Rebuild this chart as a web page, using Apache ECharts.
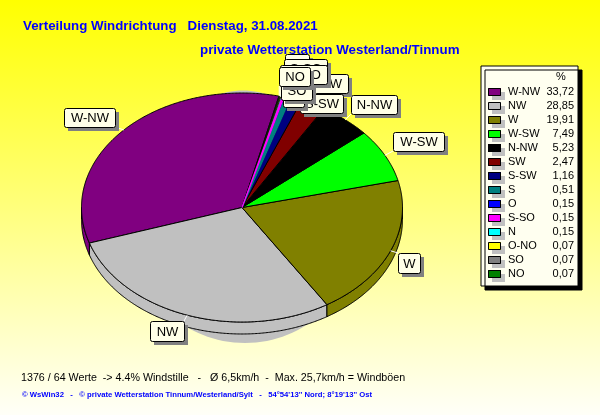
<!DOCTYPE html>
<html><head><meta charset="utf-8">
<style>html,body{margin:0;padding:0;background:#fff}#c{width:600px;height:415px}</style>
<script src="https://cdn.jsdelivr.net/npm/echarts@6/dist/echarts.min.js"></script>
</head><body><div id="c"></div>
<script>
const directions = ['W-NW','NW','W','W-SW','N-NW','SW','S-SW','S','O','S-SO','N','O-NO','SO','NO'];
const percents = [33.72,28.85,19.91,7.49,5.23,2.47,1.16,0.51,0.15,0.15,0.15,0.07,0.07,0.07];
const titleText = 'Verteilung Windrichtung   Dienstag, 31.08.2021';
const subtitleText = 'private Wetterstation Westerland/Tinnum';
const statsText = '1376 / 64 Werte  -> 4.4% Windstille   -   Ø 6,5km/h  -  Max. 25,7km/h = Windböen';
const footerText = '© WsWin32   -   © private Wetterstation Tinnum/Westerland/Sylt   -   54°54\'13\'\' Nord; 8°19\'13\'\' Ost';

const colors = ['#800080','#c0c0c0','#808000','#00ff00','#000000','#800000','#000080','#008080','#0000ff','#ff00ff','#00ffff','#ffff00','#808080','#008000'];
const labelBoxes = {
  'W-NW':[64,108,51,19],'NW':[150,321,34,20],'W':[398,253,22,20],'W-SW':[393,132,51,19],'N-NW':[351,95,46,19],
  'SW':[314,74,34,19],'S-SW':[300,94,43,19],'S':[283,88,21,19],'O':[285,54,24,19],'S-SO':[284,59,43,19],
  'N':[303,65,24,19],'O-NO':[280,65,47,19],'SO':[281,81,31,19],'NO':[279,67,31,19]
};
const brightSlivers = ['S','S-SO'];
const PIE = {cx:242, cy:207.5, rx:160.5, ry:114.5, depth:12, startDeg:-76.7};
const KEY = {x:488, y:88, w:13, h:8, pitch:14};
const FONT = '"Liberation Sans", Arial, sans-serif';
const paper = '#fffff0';

const pt = (deg, dy) => {
  const a = deg*Math.PI/180;
  return [PIE.cx+PIE.rx*Math.cos(a), PIE.cy+PIE.ry*Math.sin(a)+(dy||0)];
};
const arc = (hi, lo, dy) => {
  const out = [], n = Math.max(1, Math.ceil((hi-lo)/0.5));
  for (let i=0;i<=n;i++) out.push(pt(hi-(hi-lo)*i/n, dy));
  return out;
};
const total = percents.reduce((a,b)=>a+b,0);

function renderSlice(params, api) {
  const i = params.seriesIndex;
  const before = api.value(1), val = api.value(0);
  const hi = PIE.startDeg - before/total*360;
  const lo = hi - val/total*360;
  const line = {stroke:'#000', lineWidth:1};
  const fill = colors[i];
  const kids = [];
  // side wall: the part of the rim that faces the viewer
  [-360,0].forEach(k => {
    const a = Math.min(hi, 180+k), b = Math.max(lo, k);
    if (a > b) {
      const pts = arc(a,b,0).concat(arc(a,b,PIE.depth).reverse());
      kids.push({type:'polygon', shape:{points:pts}, style:Object.assign({fill}, line), z2:1});
    }
  });
  // top face
  const thin = val < 1;
  const bright = brightSlivers.includes(directions[i]);
  kids.push({type:'polygon', shape:{points:[[PIE.cx,PIE.cy]].concat(arc(hi,lo,0))},
    style:{fill, stroke: bright ? fill : '#000', lineWidth: thin ? (bright ? 1.2 : .6) : 1},
    z2: bright ? 40 : 2+(thin?i:0)});
  // label
  const box = labelBoxes[directions[i]];
  const mid = pt((hi+lo)/2);
  const tx = Math.max(box[0], Math.min(box[0]+box[2], mid[0]));
  const ty = Math.max(box[1], Math.min(box[1]+box[3], mid[1]));
  const zb = 100+i*3;
  kids.push({type:'line', shape:{x1:mid[0],y1:mid[1],x2:tx,y2:ty}, style:{stroke:'#fff',lineWidth:1}, z2:50});
  kids.push({type:'rect', shape:{x:box[0]+4,y:box[1]+4,width:box[2],height:box[3]}, style:{fill:'#808080'}, z2:zb});
  kids.push({type:'rect', shape:{x:box[0]+.5,y:box[1]+.5,width:box[2],height:box[3],r:2}, style:{fill:'#ffffe8',stroke:'#000',lineWidth:1}, z2:zb+1});
  kids.push({type:'text', style:{x:box[0]+box[2]/2+.5,y:box[1]+box[3]/2+1,text:directions[i],align:'center',verticalAlign:'middle',fill:'#000',font:'13px '+FONT}, z2:zb+2});
  return {type:'group', children:kids};
}

let run = 0;
const series = directions.map((d,i) => {
  const s = {name:d, type:'custom', coordinateSystem:'none', renderItem:renderSlice, silent:true,
    itemStyle:{color:colors[i]}, data:[[percents[i], run]], animation:false};
  run += percents[i];
  return s;
});

const keyOutlines = directions.map((d,i) => ({
  type:'rect', z:10, silent:true,
  shape:{x:KEY.x+.5, y:KEY.y+KEY.pitch*i+.5, width:KEY.w-1, height:KEY.h-1},
  style:{fill:'none', stroke:'#000', lineWidth:1}
}));

const chart = echarts.init(document.getElementById('c'), null, {renderer:'canvas', width:600, height:415});
chart.setOption({
  animation:false,
  backgroundColor:{type:'linear',x:0,y:0,x2:0,y2:1,colorStops:[{offset:0,color:'#ffff00'},{offset:1,color:'#fffff8'}]},
  title:[
    {text:titleText,left:23,top:20,padding:0,textStyle:{fontFamily:FONT,fontSize:13.3,fontWeight:'bold',color:'#0000ff'}},
    {text:subtitleText,left:200,top:44,padding:0,textStyle:{fontFamily:FONT,fontSize:13.35,fontWeight:'bold',color:'#0000ff'}},
    {text:statsText,left:21,top:373,padding:0,textStyle:{fontFamily:FONT,fontSize:10.7,fontWeight:'normal',color:'#000'}},
    {text:footerText,left:22,top:391,padding:0,textStyle:{fontFamily:FONT,fontSize:7.7,fontWeight:'bold',color:'#0000ff'}},
    {text:'%',left:556,top:71,padding:0,textStyle:{fontFamily:FONT,fontSize:11,fontWeight:'normal',color:'#000'}}
  ],
  legend:{
    orient:'vertical', left:481, top:66, padding:[19,4,5,7], itemGap:0, itemWidth:KEY.w, itemHeight:KEY.h, icon:'rect',
    selectedMode:false, backgroundColor:paper, borderColor:'#000', borderWidth:1,
    shadowColor:'#000', shadowBlur:0, shadowOffsetX:4, shadowOffsetY:4,
    itemStyle:{borderWidth:0,shadowColor:'#c0c0c0',shadowBlur:0,shadowOffsetX:4,shadowOffsetY:4},
    data:directions,
    formatter:n => '{n|'+n+'}{v|'+percents[directions.indexOf(n)].toFixed(2).replace('.',',')+'}',
    textStyle:{rich:{
      n:{width:40,height:14,lineHeight:14,padding:[0,0,0,2],fontFamily:FONT,fontSize:11,color:'#000'},
      v:{width:26,height:14,align:'right',lineHeight:14,fontFamily:FONT,fontSize:11,color:'#000'}
    }}
  },
  graphic:[
    {type:'ellipse',z:0,silent:true,shape:{cx:245,cy:239,rx:109,ry:104},style:{fill:'#c0c0c0'}},
    {type:'ellipse',z:0,silent:true,shape:{cx:243,cy:110.5,rx:40,ry:20},style:{fill:'#c0c0c0'}}
  ].concat(keyOutlines),
  series
});
</script></body></html>
